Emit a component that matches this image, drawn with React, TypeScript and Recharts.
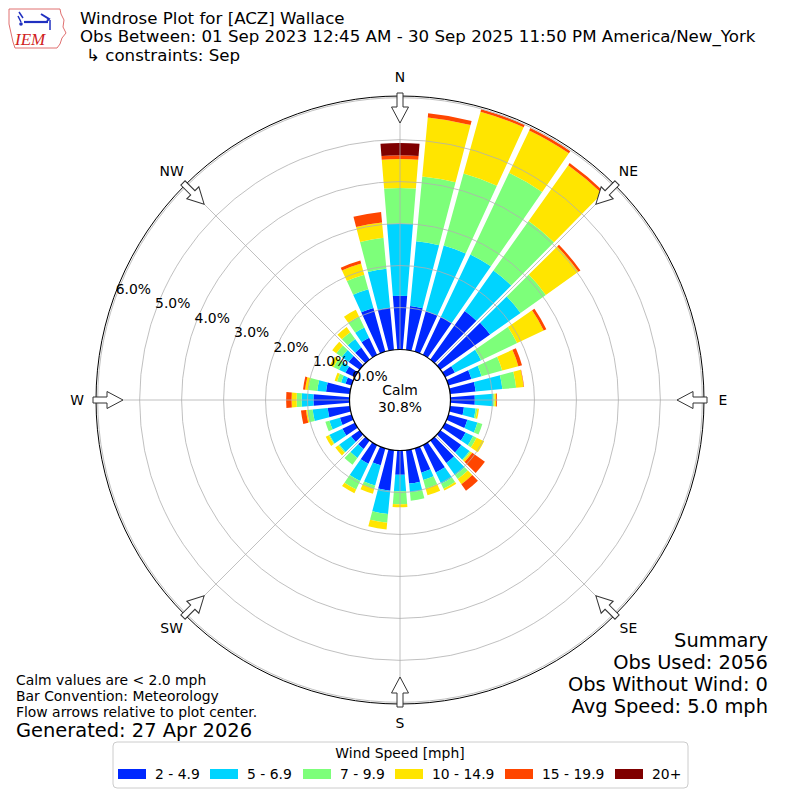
import React from 'react';
import { RadialBarChart, RadialBar, PolarAngleAxis, PolarRadiusAxis } from 'recharts';

// wind direction bins, 10 degree steps, meteorological convention
const directions = [
  '0', '10', '20', '30', '40', '50', '60', '70', '80', '90', '100', '110',
  '120', '130', '140', '150', '160', '170', '180', '190', '200', '210', '220', '230',
  '240', '250', '260', '270', '280', '290', '300', '310', '320', '330', '340', '350',
];

// percent of observations per speed bin (stacked)
const speed2to5 = [1.28, 1.05, 1.0, 1.0, 1.42, 1.45, 0.26, 0.57, 0.61, 0.58, 0.33, 0.47, 0.54, 0.61, 0.66, 0.72, 0.6, 0.8, 0.58, 0.97, 0.42, 0.49, 0.25, 0.25, 0.33, 0.29, 0.53, 0.86, 0.57, 0.15, 0.25, 0.32, 0.35, 0.45, 1.08, 1.01];
const speed5to7 = [1.72, 1.55, 1.62, 1.65, 1.18, 0.89, 0.69, 0.25, 0.64, 0.44, 0.28, 0.25, 0.2, 0.24, 0.36, 0.3, 0.18, 0.21, 0.39, 0.56, 0.5, 0.46, 0.26, 0.34, 0.34, 0.26, 0.36, 0.28, 0.21, 0.11, 0.17, 0.2, 0.25, 0.27, 0.46, 0.93];
const speed7to10 = [0.85, 1.55, 1.78, 2.15, 1.45, 0.74, 0.95, 0.51, 0.33, 0.03, 0.04, 0.12, 0.09, 0.03, 0.11, 0.13, 0.21, 0.2, 0.31, 0.21, 0.08, 0.22, 0.2, 0.03, 0.02, 0.1, 0.13, 0.12, 0.21, 0.1, 0.14, 0.16, 0.2, 0.29, 0.36, 0.74];
const speed10to15 = [0.69, 1.41, 1.53, 1.12, 1.63, 0.95, 0.7, 0.4, 0.18, 0.04, 0.04, 0, 0.2, 0.05, 0.15, 0.05, 0.17, 0, 0.07, 0.16, 0.12, 0.1, 0, 0.09, 0.08, 0, 0.03, 0.12, 0.08, 0.06, 0.1, 0.12, 0.15, 0.18, 0.28, 0.37];
const speed15to20 = [0.09, 0.1, 0.06, 0.06, 0.06, 0.06, 0.07, 0.09, 0.01, 0.02, 0, 0, 0, 0.37, 0.19, 0, 0, 0, 0, 0, 0, 0, 0, 0, 0, 0, 0.12, 0.13, 0.05, 0, 0, 0, 0, 0, 0.07, 0.25];
const speed20plus = [0.29, 0, 0, 0, 0, 0, 0, 0, 0, 0, 0, 0, 0, 0, 0, 0, 0, 0, 0, 0, 0, 0, 0, 0, 0, 0, 0, 0, 0, 0, 0, 0, 0, 0, 0, 0];

const binNames = ['2 - 4.9', '5 - 6.9', '7 - 9.9', '10 - 14.9', '15 - 19.9', '20+'];
const binColors = ['#0028ff', '#00d4ff', '#7dff7a', '#ffe500', '#ff4600', '#7f0000'];
const radiusTicks = [0, 1, 2, 3, 4, 5, 6];
const compassNames = ['N', 'NE', 'E', 'SE', 'S', 'SW', 'W', 'NW'];
const summaryLines = ['Summary', 'Obs Used: 2056', 'Obs Without Wind: 0', 'Avg Speed: 5.0 mph'];
const noteLines = ['Calm values are < 2.0 mph', 'Bar Convention: Meteorology', 'Flow arrows relative to plot center.'];

const series = [speed2to5, speed5to7, speed7to10, speed10to15, speed15to20, speed20plus];
const rows = directions.map((dir, i) => {
  const row: Record<string, string | number> = { dir };
  series.forEach((s, k) => {
    row['b' + k] = s[i];
  });
  return row;
});

const FONT = '"DejaVu Sans", sans-serif';
const CX = 400;
const CY = 400;
const R_IN = 50.5;
const R_OUT = 304;
const R_MAX = 6.04;
const radiusOf = (v: number) => R_IN + (v * (R_OUT - R_IN)) / R_MAX;

const toXY = (r: number, deg: number) => {
  const a = (deg * Math.PI) / 180;
  return [CX + r * Math.cos(a), CY - r * Math.sin(a)];
};

// sector with a white gap of near constant width between neighbours
const GapSector = (props: any) => {
  const { cx, cy, innerRadius, outerRadius, startAngle, endAngle, fill } = props;
  if (!(outerRadius - innerRadius > 0.05)) return <g />;
  const lo = Math.min(startAngle, endAngle);
  const hi = Math.max(startAngle, endAngle);
  const off = (r: number) => 0.35 + (Math.asin(Math.min(1, 1.3 / r)) * 180) / Math.PI;
  const pt = (r: number, deg: number) => {
    const a = (deg * Math.PI) / 180;
    return `${cx + r * Math.cos(a)},${cy - r * Math.sin(a)}`;
  };
  const r1 = innerRadius;
  const r2 = outerRadius;
  const d = [
    `M${pt(r1, lo + off(r1))}`,
    `L${pt(r2, lo + off(r2))}`,
    `A${r2},${r2} 0 0 0 ${pt(r2, hi - off(r2))}`,
    `L${pt(r1, hi - off(r1))}`,
    `A${r1},${r1} 0 0 1 ${pt(r1, lo + off(r1))}`,
    'Z',
  ].join(' ');
  return <path d={d} fill={fill} stroke="none" />;
};

const Arrow = ({ deg }: { deg: number }) => (
  <polygon
    points="397,93 403,93 403,107 408.5,107 400,123 391.5,107 397,107"
    fill="#fff"
    stroke="#333"
    strokeWidth={1}
    transform={`rotate(${deg} ${CX} ${CY})`}
  />
);

const Logo = () => (
  <g>
    <path
      d="M9,9 L60,9 L61,14 L64,20 L63,27 L66,33 L62,38 L60,44 L57,48 L15,48 L13,42 L11,33 L9,24 Z"
      fill="none"
      stroke="#e07070"
      strokeWidth={1}
    />
    <line x1={24} y1={22} x2={48} y2={22} stroke="#2030c0" strokeWidth={2.2} />
    <path d="M19,12 L23,18 M18,16 L21,22" stroke="#2030c0" strokeWidth={1.5} fill="none" />
    <path d="M41,14 L49,19 L47,21" stroke="#2030c0" strokeWidth={2} fill="none" />
    <line x1={50} y1={20} x2={50} y2={30} stroke="#2030c0" strokeWidth={1.5} />
    <circle cx={21} cy={24} r={1.8} fill="#2030c0" />
    <text x={15} y={45} fontFamily='"Liberation Serif", serif' fontStyle="italic" fontSize={17} fill="#d02020">
      IEM
    </text>
  </g>
);

const Overlay = () => {
  const legendRectX = [118, 210, 303, 395, 505, 615];
  return (
    <svg width={800} height={800} style={{ position: 'absolute', left: 0, top: 0, pointerEvents: 'none' }}>
      {/* grid drawn above the bars, as in the original */}
      {radiusTicks.slice(1).map((v) => (
        <circle key={v} cx={CX} cy={CY} r={radiusOf(v)} fill="none" stroke="#b0b0b0" strokeWidth={0.8} />
      ))}
      {compassNames.map((name, i) => {
        const [x1, y1] = toXY(R_IN, 90 - i * 45);
        const [x2, y2] = toXY(R_OUT, 90 - i * 45);
        return <line key={name} x1={x1} y1={y1} x2={x2} y2={y2} stroke="#b0b0b0" strokeWidth={0.8} />;
      })}
      <circle cx={CX} cy={CY} r={R_OUT} fill="none" stroke="#000" strokeWidth={1} />
      <circle cx={CX} cy={CY} r={R_IN} fill="#fff" stroke="#000" strokeWidth={1.2} />
      <text x={CX} y={395} textAnchor="middle" fontSize={13.9} fontFamily={FONT}>Calm</text>
      <text x={CX} y={412} textAnchor="middle" fontSize={13.9} fontFamily={FONT}>30.8%</text>
      {radiusTicks.map((v) => {
        const r = radiusOf(v);
        return (
          <text key={v} x={417.5 - 0.94 * r} y={393.4 - 0.345 * r} dy="0.35em" textAnchor="middle" fontSize={13.9} fontFamily={FONT}>
            {v.toFixed(1)}%
          </text>
        );
      })}
      {compassNames.map((name, i) => {
        const deg = i * 45;
        const [x, y] = toXY(323, 90 - deg);
        return (
          <g key={name}>
            <Arrow deg={deg} />
            <text x={x} y={y} dy="0.35em" textAnchor="middle" fontSize={13.9} fontFamily={FONT}>
              {name}
            </text>
          </g>
        );
      })}
      <Logo />
      <text x={80} y={24} fontSize={16.67} fontFamily={FONT}>Windrose Plot for [ACZ] Wallace</text>
      <text x={80} y={42} fontSize={16.67} fontFamily={FONT}>
        Obs Between: 01 Sep 2023 12:45 AM - 30 Sep 2025 11:50 PM America/New_York
      </text>
      <text x={86} y={61} fontSize={16.67} fontFamily={FONT}>{'\u21b3 constraints: Sep'}</text>
      {summaryLines.map((t, i) => (
        <text key={t} x={768} y={647 + i * 22} textAnchor="end" fontSize={19.44} fontFamily={FONT}>
          {t}
        </text>
      ))}
      {noteLines.map((t, i) => (
        <text key={t} x={16} y={685 + i * 16} fontSize={13.9} fontFamily={FONT}>
          {t}
        </text>
      ))}
      <text x={16} y={737} fontSize={19.44} fontFamily={FONT}>Generated: 27 Apr 2026</text>
      <rect x={113} y={742} width={575} height={46} rx={4} fill="#fff" stroke="#cccccc" strokeWidth={1} />
      <text x={400} y={758} textAnchor="middle" fontSize={13.9} fontFamily={FONT}>Wind Speed [mph]</text>
      {binNames.map((name, i) => (
        <g key={name}>
          <rect x={legendRectX[i]} y={769} width={28} height={10} fill={binColors[i]} />
          <text x={legendRectX[i] + 37} y={779} fontSize={13.9} fontFamily={FONT}>
            {name}
          </text>
        </g>
      ))}
    </svg>
  );
};

export default function App() {
  return (
    <div style={{ position: 'absolute', left: 0, top: 0, width: 800, height: 800, background: '#fff' }}>
      <RadialBarChart
        width={800}
        height={800}
        cx={CX}
        cy={CY}
        innerRadius={R_IN}
        outerRadius={R_OUT}
        data={rows}
        layout="centric"
        startAngle={85}
        endAngle={-275}
        barCategoryGap={0}
        barGap={0}
        margin={{ top: 0, right: 0, bottom: 0, left: 0 }}
      >
        <PolarAngleAxis type="category" dataKey="dir" tick={false} axisLine={false} tickLine={false} />
        <PolarRadiusAxis
          type="number"
          domain={[0, R_MAX]}
          ticks={radiusTicks}
          allowDataOverflow
          axisLine={false}
          tickLine={false}
          tick={false}
        />
        {binNames.map((name, k) => (
          <RadialBar
            key={name}
            dataKey={'b' + k}
            name={name}
            stackId="wind"
            fill={binColors[k]}
            shape={GapSector}
            isAnimationActive={false}
          />
        ))}
      </RadialBarChart>
      <Overlay />
    </div>
  );
}
